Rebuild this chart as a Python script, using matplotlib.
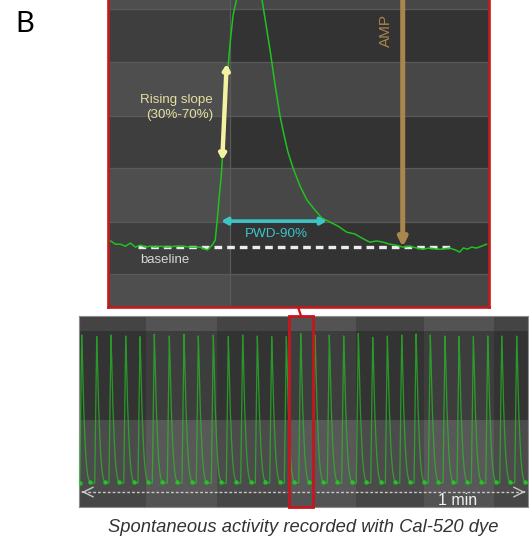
import numpy as np
import matplotlib.pyplot as plt
from matplotlib.patches import Rectangle, ConnectionPatch

# single transient shown in the zoom (top panel): time (s), normalised dF
trace_t = [0.026, 0.068, 0.111, 0.153, 0.196, 0.238, 0.281, 0.323, 0.366, 0.409,
           0.451, 0.511, 0.579, 0.647, 0.706, 0.791, 0.851, 0.894, 0.919, 0.936,
           0.953, 0.970, 0.979, 0.996, 1.013, 1.030, 1.047, 1.072, 1.115, 1.157,
           1.209, 1.251, 1.285, 1.319, 1.353, 1.387, 1.430, 1.472, 1.506, 1.540,
           1.583, 1.643, 1.702, 1.770, 1.830, 1.898, 1.966, 2.043, 2.111, 2.170,
           2.238, 2.298, 2.349, 2.409, 2.460, 2.519, 2.579, 2.638, 2.689, 2.749,
           2.809, 2.860, 2.919, 2.970, 3.004, 3.038, 3.072, 3.106, 3.149, 3.191,
           3.234]
trace_f = [0.021, 0.010, 0.010, 0.003, 0.014, 0.000, 0.007, 0.000, 0.003, 0.000,
           0.003, 0.000, 0.003, 0.003, 0.000, 0.000, -0.010, 0.007, 0.024, 0.092,
           0.171, 0.240, 0.298, 0.435, 0.555, 0.623, 0.702, 0.795, 0.873, 0.932,
           0.966, 0.966, 0.914, 0.846, 0.760, 0.675, 0.555, 0.449, 0.384, 0.325,
           0.271, 0.209, 0.161, 0.127, 0.099, 0.086, 0.072, 0.051, 0.045, 0.031,
           0.017, 0.021, 0.017, 0.010, 0.007, 0.000, 0.003, -0.003, -0.007, -0.003,
           -0.007, -0.007, -0.003, -0.010, -0.017, -0.003, -0.007, 0.000, -0.003, 0.003,
           0.010]

# whole recording (bottom panel): peak times (s) and peak heights
peak_t = [0.37, 2.40, 4.33, 6.33, 8.26, 10.20, 12.23, 14.22, 16.16, 18.19,
          20.22, 22.17, 24.15, 26.10, 28.08, 30.03, 31.97, 33.90, 35.85, 37.83,
          39.78, 41.76, 43.71, 45.65, 47.58, 49.57, 51.47, 53.41, 55.36, 57.25,
          59.28]
peak_f = [1.000, 0.989, 1.000, 0.993, 0.989, 1.005, 0.993, 1.005, 0.993, 1.000,
          0.989, 1.000, 0.993, 0.989, 0.989, 1.011, 1.000, 1.000, 0.993, 1.011,
          0.984, 0.993, 1.000, 1.007, 1.000, 0.993, 0.989, 0.989, 0.993, 0.993,
          0.993]
# shape of one transient in the full recording, relative to its peak
shape_dt = [-0.27, -0.14, 0.0, 0.07, 0.14, 0.27, 0.41, 0.54, 0.68, 0.81,
            0.95, 1.10, 1.25]
shape_f = [0.0, 0.5, 1.0, 0.9, 0.75, 0.5, 0.32, 0.19, 0.10, 0.05,
           0.02, 0.005, 0.0]

# background stripes of the imaging software window
top_rows = [-0.205, -0.092, 0.086, 0.271, 0.449, 0.634, 0.815, 0.95]
top_split = 1.047
bot_cols = [0, 9.07, 18.69, 28.31, 37.52, 46.73, 56.21, 60.81]
bot_rows = [-0.162, -0.068, 0.426, 1.027, 1.128]
box_t = (28.44, 31.70)

W, H = 529, 545
fig = plt.figure(figsize=(W / 100, H / 100), dpi=100)
font = 'Liberation Sans'

# ---- top: zoom on one transient ----
ax1 = fig.add_axes([107.5 / W, 1 - 307 / H, 381 / W, 307 / H])
ax1.set_xlim(0, 3.251)
ax1.set_ylim(-0.205, 0.846)
for i in range(len(top_rows) - 1):
    light = (i % 2 == 0)
    left_c = '#4e4e4e' if light else '#3e3e3e'
    right_c = '#474747' if light else '#333333'
    h = top_rows[i + 1] - top_rows[i]
    ax1.add_patch(Rectangle((0, top_rows[i]), top_split, h, color=left_c, lw=0, zorder=0))
    ax1.add_patch(Rectangle((top_split, top_rows[i]), 3.3 - top_split, h, color=right_c, lw=0, zorder=0))
    if i > 0:
        ax1.axhline(top_rows[i], color='#5a5a5a', lw=0.9, zorder=0.5)
ax1.axvline(top_split, color='#5a5a5a', lw=0.9, zorder=0.5)

ax1.plot(trace_t, trace_f, color='#1fc21f', lw=1.1, zorder=3)

# baseline
ax1.plot([0.264, 2.945], [0, 0], color='#ececec', lw=2.4, ls=(0, (2.3, 1.5)), zorder=2)
ax1.text(0.281, -0.045, 'baseline', color='#d6d6d6', fontsize=9.5, family=font,
         ha='left', va='center')

# amplitude
ax1.annotate('', xy=(2.519, 0.0), xytext=(2.519, 1.0),
             arrowprops=dict(arrowstyle='-|>,head_length=0.5,head_width=0.25',
                             color='#a8864c', lw=3.6, shrinkA=0, shrinkB=0,
                             mutation_scale=10), zorder=4, annotation_clip=False)
ax1.text(2.374, 0.741, 'AMP', color='#a8864c', fontsize=11, family=font,
         rotation=90, ha='center', va='center')

# rising slope
ax1.annotate('', xy=(1.017, 0.627), xytext=(0.979, 0.298),
             arrowprops=dict(arrowstyle='<|-|>,head_length=0.3,head_width=0.18',
                             color='#f4f1a2', lw=3.2, shrinkA=0, shrinkB=0,
                             mutation_scale=10), zorder=4)
ax1.text(0.902, 0.478, 'Rising slope\n(30%-70%)', color='#e6dfa0', fontsize=9.6,
         family=font, ha='right', va='center', multialignment='right',
         linespacing=1.25)

# pulse width
ax1.annotate('', xy=(0.970, 0.089), xytext=(1.872, 0.089),
             arrowprops=dict(arrowstyle='<|-|>,head_length=0.35,head_width=0.2',
                             color='#3cc4c6', lw=2.6, shrinkA=0, shrinkB=0,
                             mutation_scale=10), zorder=4)
ax1.text(1.443, 0.046, 'PWD-90%', color='#3cc4c6', fontsize=9.7, family=font,
         ha='center', va='center')

ax1.set_xticks([])
ax1.set_yticks([])
ax1.spines['top'].set_visible(False)
for s in ['left', 'right', 'bottom']:
    ax1.spines[s].set_color('#c41a1a')
    ax1.spines[s].set_linewidth(1.9)

# ---- bottom: full recording ----
ax2 = fig.add_axes([79 / W, 1 - 507 / H, 449 / W, 191 / H])
ax2.set_xlim(0, 60.81)
ax2.set_ylim(-0.162, 1.128)
dark_col = ['#464646', '#4b4b4b', '#333333', '#444444']
light_col = ['#535353', '#585858', '#3d3d3d', '#535353']
for j in range(len(bot_cols) - 1):
    cols = dark_col if j % 2 == 0 else light_col
    for i in range(len(bot_rows) - 1):
        ax2.add_patch(Rectangle((bot_cols[j], bot_rows[i]), bot_cols[j + 1] - bot_cols[j],
                                bot_rows[i + 1] - bot_rows[i], color=cols[i], lw=0, zorder=0))

# build the recording: one transient at every peak
tt = np.arange(-0.5, 61.5, 0.01)
rec = np.zeros_like(tt)
for pt, pf in zip(peak_t, peak_f):
    rec += pf * np.interp(tt - pt, shape_dt, shape_f, left=0, right=0)
ax2.plot(tt, rec, color='#25c425', lw=0.9, alpha=0.7, zorder=3)
trough_t = [peak_t[0] - 0.3] + [pt + shape_dt[-2] for pt in peak_t]
ax2.plot(trough_t, np.interp(trough_t, tt, rec), 'o', color='#22d022',
         ms=3.2, mew=0, alpha=0.85, zorder=3)

# 1 min scale arrow
ax2.plot([0.6, 60.2], [-0.061, -0.061], color='#c8c8c8', lw=1.0, ls=(0, (2, 1.5)), zorder=4)
for a, b in [(0.4, 0.5), (60.4, 60.3)]:
    ax2.annotate('', xy=(a, -0.061), xytext=(b, -0.061),
                 arrowprops=dict(arrowstyle='->,head_length=0.7,head_width=0.35',
                                 color='#c8c8c8', lw=1.0, shrinkA=0, shrinkB=0), zorder=4)
ax2.text(51.3, -0.118, '1 min', color='#f2f2f2', fontsize=11.5, family=font,
         ha='center', va='center', zorder=5)

# red box marking the zoomed window
ax2.add_patch(Rectangle((box_t[0], -0.162), box_t[1] - box_t[0], 1.29, fill=False,
                        edgecolor='#c8141c', lw=2.0, zorder=6, clip_on=False))
ax2.set_xticks([])
ax2.set_yticks([])
for s in ax2.spines.values():
    s.set_color('#8c8c8c')
    s.set_linewidth(0.8)

con = ConnectionPatch(xyA=(0.5, 0), coordsA=ax1.transAxes,
                      xyB=(sum(box_t) / 2, 1.128), coordsB=ax2.transData,
                      color='#c8141c', lw=1.6)
fig.add_artist(con)

fig.text(15 / W, 1 - 32 / H, 'B', fontsize=21, family='Lato', color='black',
         ha='left', va='baseline')
fig.text(303.5 / W, 1 - 532 / H, 'Spontaneous activity recorded with Cal-520 dye',
         fontsize=13.2, family=font, style='italic', color='#333333',
         ha='center', va='baseline')

fig.savefig('out.png', dpi=100)
